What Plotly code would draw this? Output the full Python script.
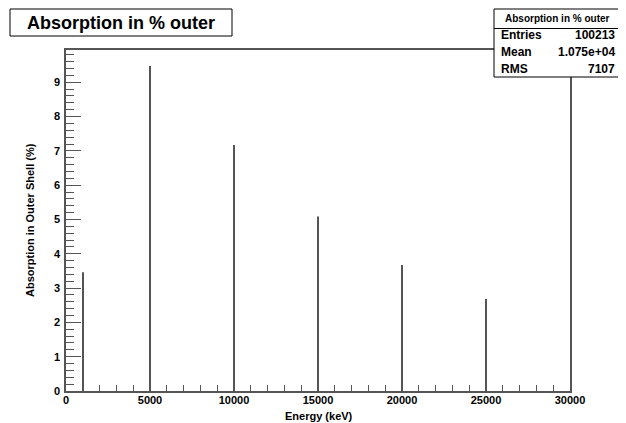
import plotly.graph_objects as go

energies = [1000, 5000, 10000, 15000, 20000, 25000]
absorption = [3.46, 9.47, 7.17, 5.09, 3.67, 2.68]
x_ticks = [0, 5000, 10000, 15000, 20000, 25000, 30000]
y_ticks = [0, 1, 2, 3, 4, 5, 6, 7, 8, 9]
stats_labels = ["Entries", "Mean", "RMS"]
stats_values = ["100213", "1.075e+04", "7107"]

FONT = "Liberation Sans, Arial, sans-serif"
OFF = 8  # page body margin
W, H = 626 - OFF, 423 - OFF
L, R, T, B = 66, 570, 50, 391  # target plot area in page pixels

fig = go.Figure()
fig.add_trace(go.Bar(x=energies, y=absorption, width=80,
                     marker=dict(color="#555555", line=dict(width=0))))

def px(xp):
    return (xp - L) / (R - L)

def py(yp):
    return (B - yp) / (B - T)

fig.update_layout(
    width=W, height=H,
    margin=dict(l=L - OFF, r=626 - R, t=T - OFF, b=423 - B, autoexpand=False),
    paper_bgcolor="white", plot_bgcolor="white",
    showlegend=False,
    font=dict(family=FONT, color="black"),
    xaxis=dict(range=[0, 30000], tickvals=x_ticks, ticktext=[str(v) for v in x_ticks],
               ticks="inside", ticklen=11, tickwidth=1, tickcolor="#555",
               minor=dict(dtick=1000, ticks="inside", ticklen=6, tickcolor="#555", showgrid=False),
               showgrid=False, zeroline=False, showline=True, linecolor="#555", linewidth=1.5,
               mirror=True, tickfont=dict(size=11, family=FONT, weight="bold"),
               ticklabelstandoff=-2),
    yaxis=dict(range=[0, 9.94], tickvals=y_ticks, ticktext=[str(v) for v in y_ticks],
               ticks="inside", ticklen=15, tickwidth=1, tickcolor="#555",
               minor=dict(dtick=0.2, tick0=0, ticks="inside", ticklen=8, tickcolor="#555", showgrid=False),
               showgrid=False, zeroline=False, showline=True, linecolor="#555", linewidth=1.5,
               mirror=True, tickfont=dict(size=11, family=FONT, weight="bold"),
               ticklabelstandoff=2),
)

annotations = []
shapes = []
# axis titles
annotations.append(dict(x=px(318.5), y=py(416), xref="paper", yref="paper",
                        text="Energy (keV)", showarrow=False,
                        font=dict(size=11, family=FONT, weight="bold"),
                        xanchor="center", yanchor="middle"))
annotations.append(dict(x=px(30), y=py(220), xref="paper", yref="paper",
                        text="Absorption in Outer Shell (%)", showarrow=False, textangle=-90,
                        font=dict(size=11, family=FONT, weight="bold"),
                        xanchor="center", yanchor="middle"))
# title box
shapes.append(dict(type="rect", xref="paper", yref="paper",
                   x0=px(10), x1=px(232), y0=py(36), y1=py(9),
                   line=dict(color="black", width=1), fillcolor="white"))
annotations.append(dict(x=px(121), y=py(22.5), xref="paper", yref="paper",
                        text="Absorption in % outer", showarrow=False,
                        font=dict(size=18, family=FONT, weight="bold"),
                        xanchor="center", yanchor="middle"))
# stats box
sx0, sx1, sy0, sy1 = 494, 621, 9, 77
shapes.append(dict(type="rect", xref="paper", yref="paper",
                   x0=px(sx0), x1=px(sx1), y0=py(sy1), y1=py(sy0),
                   line=dict(color="black", width=1), fillcolor="white"))
shapes.append(dict(type="line", xref="paper", yref="paper",
                   x0=px(sx0), x1=px(sx1), y0=py(28.5), y1=py(28.5),
                   line=dict(color="black", width=1)))
annotations.append(dict(x=px((sx0 + sx1) / 2), y=py(18.5), xref="paper", yref="paper",
                        text="Absorption in % outer", showarrow=False,
                        font=dict(size=10, family=FONT, weight="bold"),
                        xanchor="center", yanchor="middle"))
row_y = [35, 52, 69]
for lab, val, yy in zip(stats_labels, stats_values, row_y):
    annotations.append(dict(x=px(sx0 + 5), y=py(yy), xref="paper", yref="paper",
                            text=lab, showarrow=False,
                            font=dict(size=12, family=FONT, weight="bold"),
                            xanchor="left", yanchor="middle"))
    annotations.append(dict(x=px(sx1 - 4), y=py(yy), xref="paper", yref="paper",
                            text=val, showarrow=False,
                            font=dict(size=12, family=FONT, weight="bold"),
                            xanchor="right", yanchor="middle"))

fig.update_layout(annotations=annotations, shapes=shapes)
fig.write_html("out.html")
